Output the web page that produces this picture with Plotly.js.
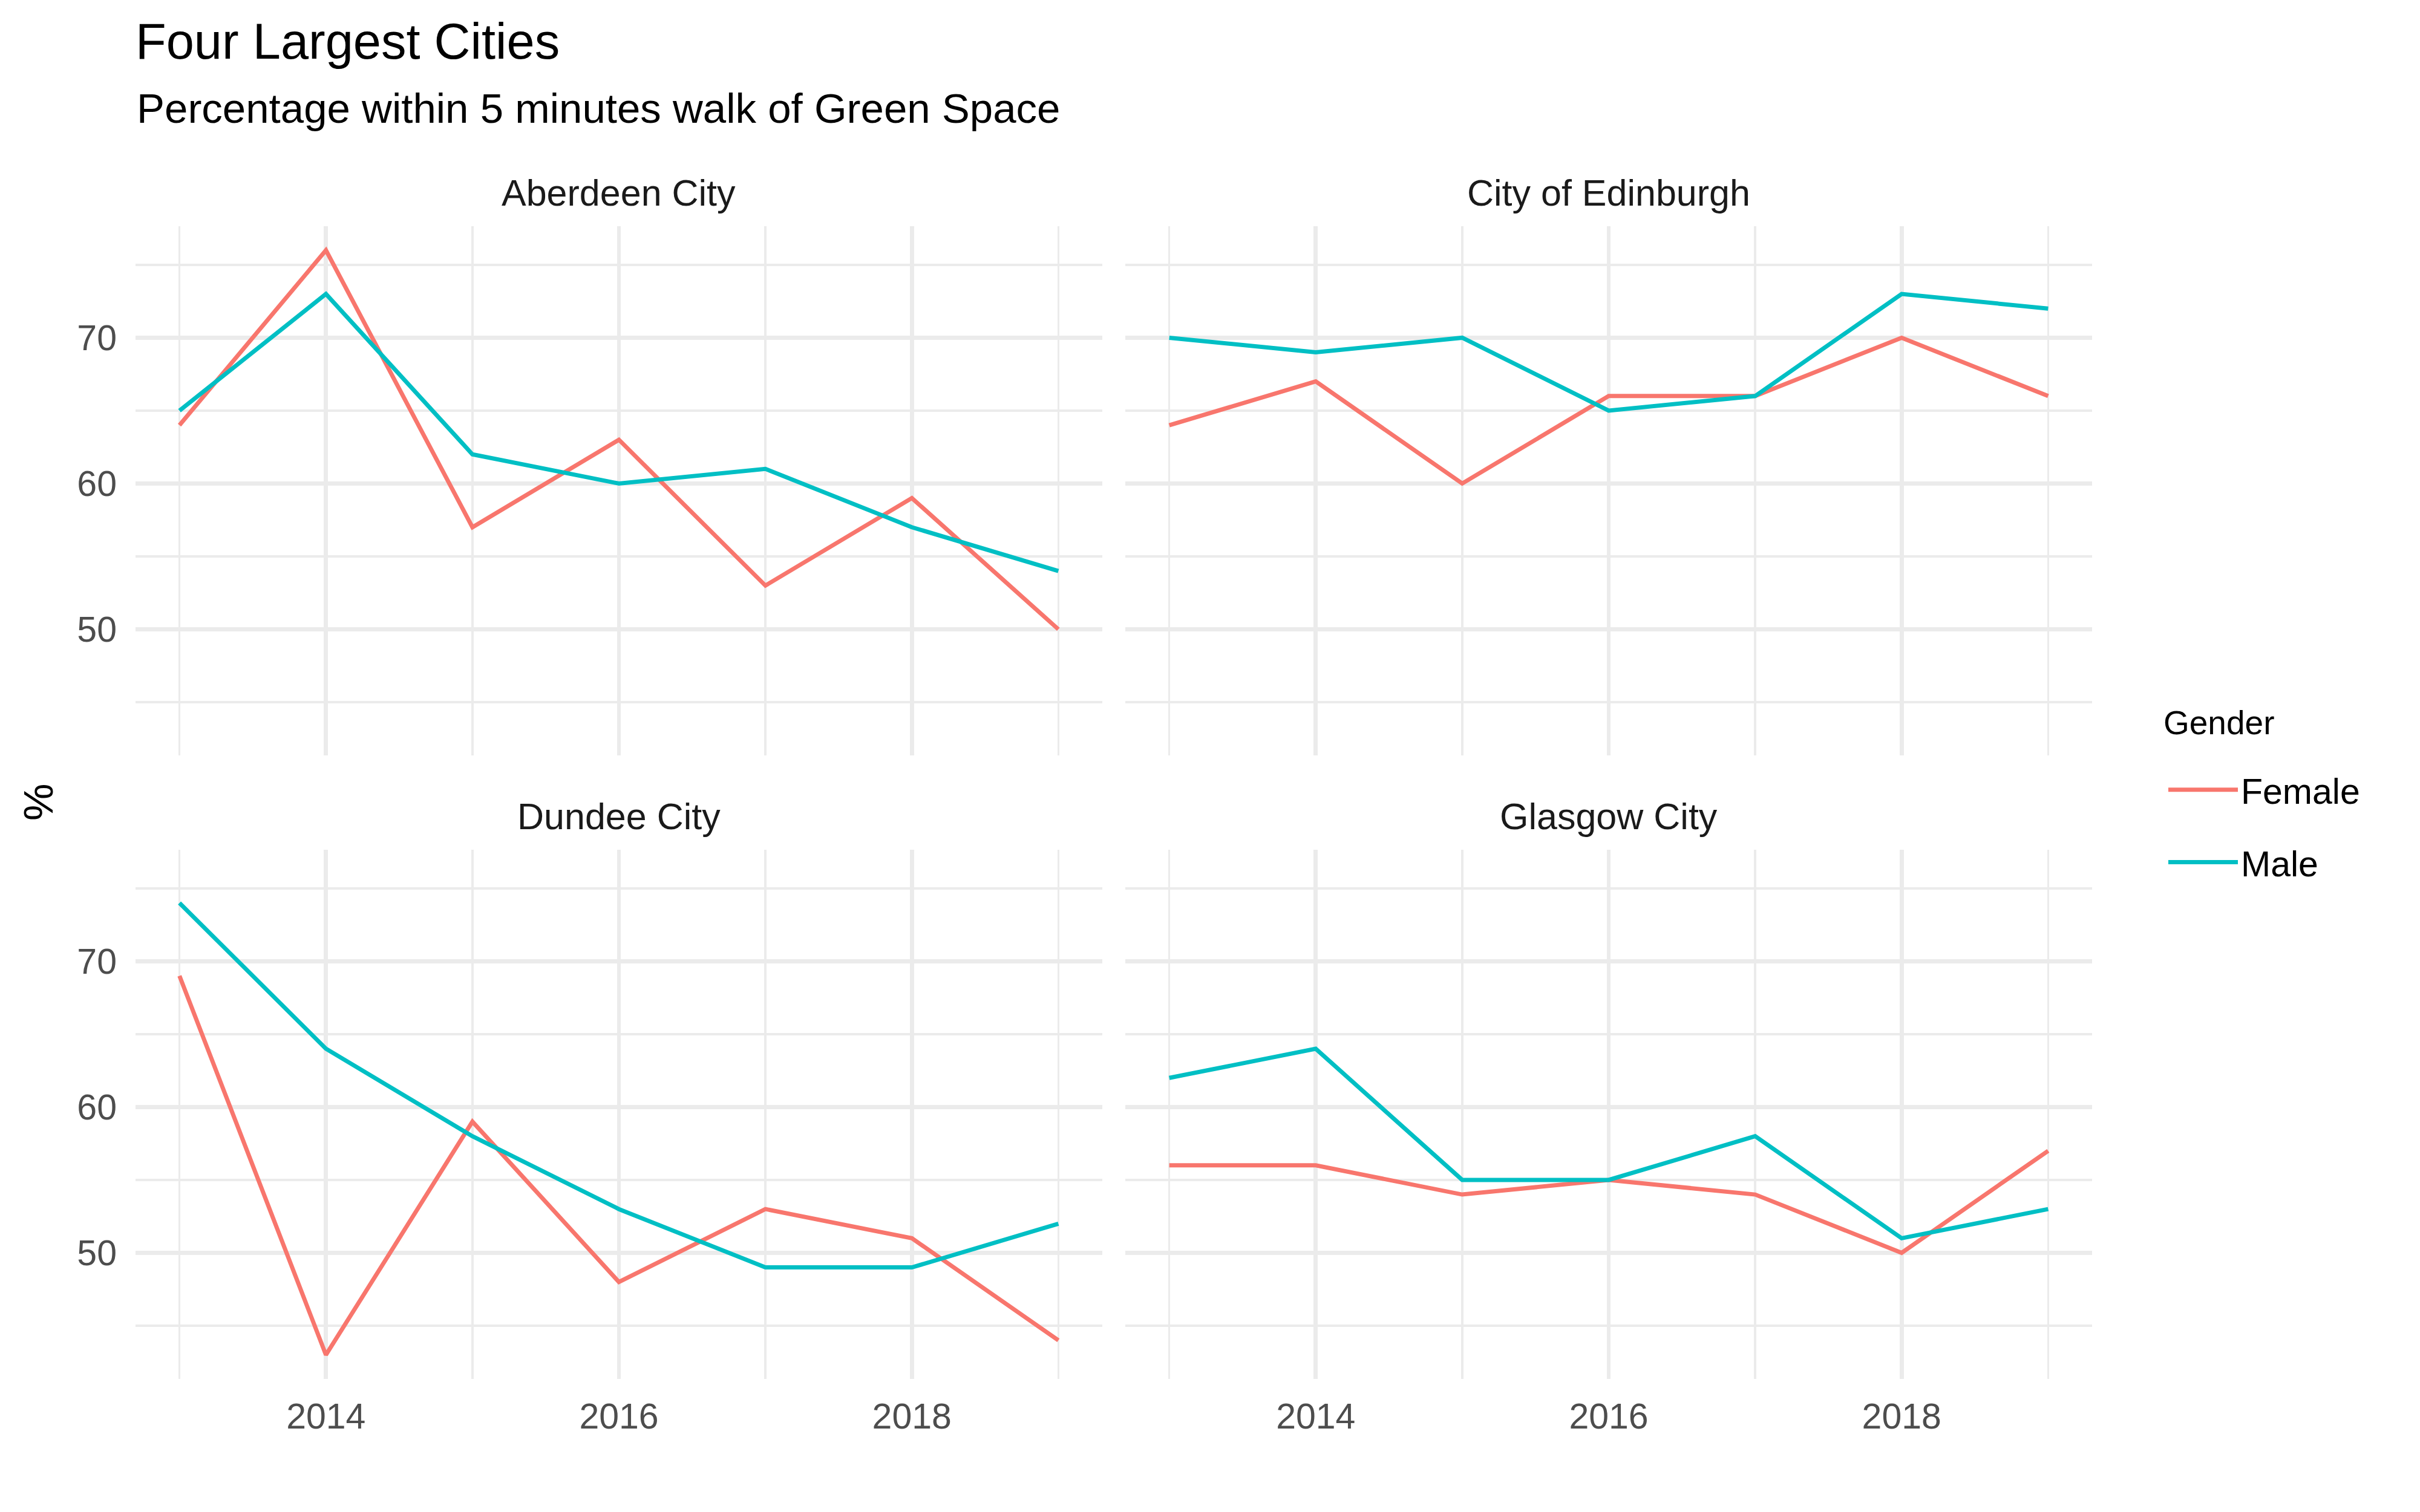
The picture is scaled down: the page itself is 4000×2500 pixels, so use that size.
<!DOCTYPE html>
<html>
<head>
<meta charset="utf-8">
<script src="https://cdn.plot.ly/plotly-3.0.1.min.js"></script>
<style>html,body{margin:0;padding:0;background:#fff;}</style>
</head>
<body>
<div id="chart" style="width:4000px;height:2500px;"></div>
<script>
// ---- data ----
const years = [2013, 2014, 2015, 2016, 2017, 2018, 2019];
const cities = ["Aberdeen City", "City of Edinburgh", "Dundee City", "Glasgow City"];
const femaleAberdeen  = [64, 76, 57, 63, 53, 59, 50];
const maleAberdeen    = [65, 73, 62, 60, 61, 57, 54];
const femaleEdinburgh = [64, 67, 60, 66, 66, 70, 66];
const maleEdinburgh   = [70, 69, 70, 65, 66, 73, 72];
const femaleDundee    = [69, 43, 59, 48, 53, 51, 44];
const maleDundee      = [74, 64, 58, 53, 49, 49, 52];
const femaleGlasgow   = [56, 56, 54, 55, 54, 50, 57];
const maleGlasgow     = [62, 64, 55, 55, 58, 51, 53];
const genders = ["Female", "Male"];
const legendTitle = "Gender";
const xMajorTicks = [2014, 2016, 2018];
const xMinorTicks = [2013, 2015, 2017, 2019];
const yMajorTicks = [50, 60, 70];
const yMinorTicks = [45, 55, 65, 75];

const femaleSeries = [femaleAberdeen, femaleEdinburgh, femaleDundee, femaleGlasgow];
const maleSeries = [maleAberdeen, maleEdinburgh, maleDundee, maleGlasgow];

// ---- styling ----
const W = 4000, H = 2500;
const colors = {Female: "#F8766D", Male: "#00BFC4"};
const FONT = "Liberation Sans, Arial, Helvetica, sans-serif";
const gridCol = "#EBEBEB";
const colX = [[224, 1822], [1860, 3458]];
const rowY = [[374, 1249], [1405, 2280]];
const xRange = [2012.7, 2019.3];
const yRange = [41.35, 77.65];

const traces = [];
cities.forEach((c, i) => {
  const suffix = i === 0 ? "" : String(i + 1);
  [femaleSeries[i], maleSeries[i]].forEach((vals, g) => {
    const gname = genders[g];
    traces.push({
      type: "scatter", mode: "lines",
      x: years, y: vals,
      xaxis: "x" + suffix, yaxis: "y" + suffix,
      name: gname, legendgroup: gname, showlegend: i === 0,
      line: {color: colors[gname], width: 7},
      hoverinfo: "skip"
    });
  });
});

const layout = {
  width: W, height: H,
  margin: {l: 0, r: 0, t: 0, b: 0},
  paper_bgcolor: "#FFFFFF", plot_bgcolor: "#FFFFFF",
  font: {family: FONT, color: "#000000"},
  title: {
    text: "Four Largest Cities",
    font: {family: FONT, size: 83, color: "#000000"},
    x: 224 / W, xanchor: "left", xref: "paper",
    y: 1 - 68 / H, yanchor: "middle", yref: "container"
  },
  showlegend: true,
  legend: {
    x: 3579 / W, xanchor: "left",
    y: 1 - 1261 / H, yanchor: "top",
    font: {family: FONT, size: 59, color: "#000000"},
    itemwidth: 115,
    traceorder: "grouped",
    tracegroupgap: 40,
    bgcolor: "rgba(0,0,0,0)",
    borderwidth: 0
  },
  annotations: [
    {text: "Percentage within 5 minutes walk of Green Space", xref: "paper", yref: "paper",
     x: 224 / W, y: 1 - 179 / H, xanchor: "left", yanchor: "middle", showarrow: false,
     font: {family: FONT, size: 69, color: "#000000"}},
    {text: "%", xref: "paper", yref: "paper", x: 63 / W, y: 1 - 1327 / H,
     xanchor: "center", yanchor: "middle", textangle: -90, showarrow: false,
     font: {family: FONT, size: 69, color: "#000000"}},
    {text: legendTitle, xref: "paper", yref: "paper", x: 3574 / W, y: 1 - 1195 / H,
     xanchor: "left", yanchor: "middle", showarrow: false,
     font: {family: FONT, size: 55, color: "#000000"}}
  ]
};

cities.forEach((c, i) => {
  const col = i % 2, row = Math.floor(i / 2);
  const suffix = i === 0 ? "" : String(i + 1);
  const xd = [colX[col][0] / W, colX[col][1] / W];
  const yd = [1 - rowY[row][1] / H, 1 - rowY[row][0] / H];
  layout["xaxis" + suffix] = {
    domain: xd, range: xRange, anchor: "y" + suffix,
    tickmode: "array", tickvals: xMajorTicks, ticktext: xMajorTicks.map(String),
    showticklabels: row === 1, ticks: "", ticklabelstandoff: 22,
    tickfont: {family: FONT, size: 59, color: "#4D4D4D"},
    showgrid: true, gridcolor: gridCol, gridwidth: 6.7,
    minor: {tickmode: "array", tickvals: xMinorTicks, showgrid: true, gridcolor: gridCol, gridwidth: 3.3, ticks: ""},
    zeroline: false, showline: false, fixedrange: true
  };
  layout["yaxis" + suffix] = {
    domain: yd, range: yRange, anchor: "x" + suffix,
    tickmode: "array", tickvals: yMajorTicks, ticktext: yMajorTicks.map(String),
    showticklabels: col === 0, ticks: "", ticklabelstandoff: 30,
    tickfont: {family: FONT, size: 59, color: "#4D4D4D"},
    showgrid: true, gridcolor: gridCol, gridwidth: 6.7,
    minor: {tickmode: "array", tickvals: yMinorTicks, showgrid: true, gridcolor: gridCol, gridwidth: 3.3, ticks: ""},
    zeroline: false, showline: false, fixedrange: true
  };
  layout.annotations.push({
    text: c, xref: "paper", yref: "paper",
    x: (colX[col][0] + colX[col][1]) / 2 / W,
    y: 1 - (rowY[row][0] - 55) / H,
    xanchor: "center", yanchor: "middle", showarrow: false,
    font: {family: FONT, size: 61, color: "#1A1A1A"}
  });
});

Plotly.newPlot("chart", traces, layout, {displayModeBar: false, staticPlot: true});
</script>
</body>
</html>
